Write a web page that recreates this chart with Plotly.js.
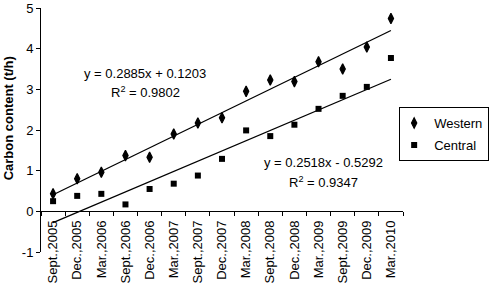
<!DOCTYPE html>
<html>
<head>
<meta charset="utf-8">
<script src="https://cdn.plot.ly/plotly-3.0.1.min.js"></script>
<style>html,body{margin:0;padding:0;background:#fff;}#chart{width:497px;height:287px;}</style>
</head>
<body>
<div id="chart"></div>
<script>
const categories = ["Sept.,2005","Dec.,2005","Mar.,2006","Sept.,2006","Dec.,2006","Mar.,2007","Sept.,2007","Dec.,2007","Mar.,2008","Sept.,2008","Dec.,2008","Mar.,2009","Sept.,2009","Dec.,2009","Mar.,2010"];
const western = [0.43, 0.80, 0.96, 1.37, 1.33, 1.90, 2.17, 2.30, 2.95, 3.23, 3.19, 3.68, 3.50, 4.04, 4.74];
const central = [0.25, 0.38, 0.43, 0.17, 0.55, 0.68, 0.88, 1.29, 1.99, 1.85, 2.13, 2.52, 2.84, 3.06, 3.77];
const seriesNames = ["Western", "Central"];
const yTickValues = [-1, 0, 1, 2, 3, 4, 5];
const yTickLabels = ["-1", "0", "1", "2", "3", "4", "5"];
const yTitle = "Carbon content (t/h)";
const trendSlope = [0.2885, 0.2518];
const trendIntercept = [0.1203, -0.5292];
const trendLabels = ["y = 0.2885x + 0.1203", "y = 0.2518x - 0.5292"];
const r2Labels = ["R<sup>2</sup> = 0.9802", "R<sup>2</sup> = 0.9347"];

const FONT = "Liberation Sans, Arial, sans-serif";
const n = categories.length;
const ends = [categories[0], categories[n - 1]];
const trend = (i) => [1, n].map(k => trendSlope[i] * k + trendIntercept[i]);

const traces = [
  {type: "scatter", mode: "markers", name: seriesNames[0], x: categories, y: western,
   legendgroup: "w", marker: {symbol: "diamond-tall", size: 7.5, color: "#000", line: {color: "#000", width: 1.2}}},
  {type: "scatter", mode: "markers", name: seriesNames[1], x: categories, y: central,
   legendgroup: "c", marker: {symbol: "square", size: 6, color: "#000"}},
  {type: "scatter", mode: "lines", x: ends, y: trend(0), showlegend: false,
   line: {color: "#000", width: 1.3}, hoverinfo: "skip"},
  {type: "scatter", mode: "lines", x: ends, y: trend(1), showlegend: false,
   line: {color: "#000", width: 1.3}, hoverinfo: "skip"}
];

const layout = {
  width: 497, height: 287,
  margin: {l: 41, r: 91, t: 8, b: 35},
  paper_bgcolor: "#fff", plot_bgcolor: "#fff",
  font: {family: FONT, size: 13, color: "#000"},
  showlegend: true,
  legend: {x: 1.238, y: 0.594, xanchor: "right", yanchor: "top",
           bordercolor: "#000", borderwidth: 1, bgcolor: "#fff",
           font: {family: FONT, size: 13, color: "#000"},
           indentation: -6,
           traceorder: "grouped", tracegroupgap: 2},
  xaxis: {type: "category", categoryarray: categories, range: [-0.5, n - 0.5],
          anchor: "free", position: 1 / 6,
          showline: true, linecolor: "#000", linewidth: 1,
          ticks: "outside", tickson: "boundaries", ticklen: 4, tickcolor: "#000",
          tickangle: -90, ticklabelstandoff: 3, showgrid: false, zeroline: false,
          tickfont: {family: FONT, size: 13, color: "#000"}},
  yaxis: {range: [-1, 5], tickmode: "array", tickvals: yTickValues, ticktext: yTickLabels,
          showline: true, linecolor: "#000", linewidth: 1,
          ticks: "outside", ticklen: 4, tickcolor: "#000",
          showgrid: false, zeroline: false,
          tickfont: {family: FONT, size: 13, color: "#000"}},
  annotations: [
    {x: -0.0904, y: 0.549, xref: "paper", yref: "paper", xanchor: "center", yanchor: "middle",
     textangle: -90, text: "<b>" + yTitle + "</b>", showarrow: false,
     font: {family: FONT, size: 13, color: "#000"}},
    {x: 3.82, y: 3.40, xref: "x", yref: "y", text: trendLabels[0], showarrow: false},
    {x: 3.82, y: 2.93, xref: "x", yref: "y", text: r2Labels[0], showarrow: false},
    {x: 11.2, y: 1.19, xref: "x", yref: "y", text: trendLabels[1], showarrow: false},
    {x: 11.2, y: 0.73, xref: "x", yref: "y", text: r2Labels[1], showarrow: false}
  ]
};

Plotly.newPlot("chart", traces, layout, {displayModeBar: false, staticPlot: true});
</script>
</body>
</html>
